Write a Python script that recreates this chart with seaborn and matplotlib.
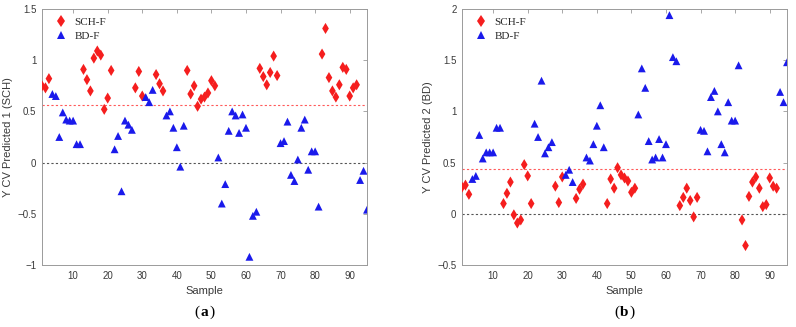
import matplotlib
matplotlib.use("Agg")
import matplotlib.pyplot as plt
from matplotlib.offsetbox import TextArea, HPacker, AnnotationBbox
import seaborn as sns
import numpy as np
import pandas as pd

# class of each sample (1..95)
group_runs = [("SCH-F", 3), ("BD-F", 9), ("SCH-F", 9), ("BD-F", 6), ("SCH-F", 3),
              ("BD-F", 3), ("SCH-F", 3), ("BD-F", 6), ("SCH-F", 9), ("BD-F", 12),
              ("SCH-F", 6), ("BD-F", 12), ("SCH-F", 11), ("BD-F", 3)]
groups = [g for g, n in group_runs for _ in range(n)]
samples = list(range(1, 96))

# Y CV Predicted 1 (SCH)
pred1 = [0.75, 0.73, 0.82, 0.67, 0.65, 0.25, 0.49, 0.42, 0.41, 0.41,
         0.18, 0.18, 0.91, 0.81, 0.70, 1.02, 1.09, 1.05, 0.52, 0.63,
         0.90, 0.13, 0.26, -0.28, 0.41, 0.37, 0.32, 0.73, 0.89, 0.65,
         0.64, 0.59, 0.71, 0.86, 0.77, 0.70, 0.46, 0.50, 0.34, 0.15,
         -0.04, 0.36, 0.90, 0.67, 0.75, 0.55, 0.62, 0.64, 0.68, 0.80,
         0.75, 0.05, -0.40, -0.21, 0.31, 0.50, 0.46, 0.29, 0.47, 0.34,
         -0.92, -0.52, -0.48, 0.92, 0.84, 0.76, 0.88, 1.04, 0.85, 0.19,
         0.21, 0.40, -0.12, -0.18, 0.03, 0.34, 0.42, -0.07, 0.11, 0.11,
         -0.43, 1.06, 1.31, 0.83, 0.70, 0.64, 0.76, 0.93, 0.91, 0.65,
         0.73, 0.76, -0.17, -0.08, -0.46]

# Y CV Predicted 2 (BD)
pred2 = [0.26, 0.28, 0.19, 0.34, 0.37, 0.77, 0.54, 0.60, 0.60, 0.60,
         0.84, 0.84, 0.10, 0.20, 0.31, -0.01, -0.09, -0.06, 0.48, 0.37,
         0.10, 0.88, 0.75, 1.30, 0.59, 0.65, 0.70, 0.27, 0.11, 0.36,
         0.38, 0.43, 0.31, 0.15, 0.24, 0.29, 0.55, 0.52, 0.68, 0.86,
         1.06, 0.65, 0.10, 0.34, 0.25, 0.45, 0.38, 0.35, 0.32, 0.21,
         0.25, 0.97, 1.42, 1.23, 0.71, 0.53, 0.55, 0.73, 0.55, 0.68,
         1.94, 1.53, 1.49, 0.08, 0.16, 0.25, 0.13, -0.03, 0.16, 0.82,
         0.81, 0.61, 1.14, 1.20, 1.00, 0.68, 0.60, 1.09, 0.91, 0.91,
         1.45, -0.06, -0.31, 0.17, 0.31, 0.36, 0.25, 0.07, 0.09, 0.35,
         0.27, 0.25, 1.19, 1.09, 1.48]

thresholds = [0.56, 0.44]
ylims = [(-1, 1.5), (-0.5, 2)]
ylabels = ["Y CV Predicted 1 (SCH)", "Y CV Predicted 2 (BD)"]
panel_tags = ["a", "b"]

df = pd.DataFrame({"Sample": samples, "pred1": pred1, "pred2": pred2, "group": groups})

sns.set_style("white")
plt.rcParams["font.family"] = ["Liberation Sans", "DejaVu Sans"]

palette = {"SCH-F": "#f51e1e", "BD-F": "#1a1aeb"}
markers = {"SCH-F": "d", "BD-F": "^"}
axis_grey = "#9a9a9a"
text_grey = "#3a3a3a"

fig = plt.figure(figsize=(7.96, 3.27), dpi=100)
ax1 = fig.add_axes([42 / 796, 1 - 265 / 327, 325 / 796, 256 / 327])
ax2 = fig.add_axes([462 / 796, 1 - 265 / 327, 325 / 796, 256 / 327])

for ax, col, thr, ylim, ylab, tag in zip([ax1, ax2], ["pred1", "pred2"], thresholds,
                                        ylims, ylabels, panel_tags):
    sns.scatterplot(data=df, x="Sample", y=col, hue="group", style="group",
                    palette=palette, markers=markers, s=32, linewidth=0,
                    ax=ax, zorder=3)
    ax.axhline(thr, color="#ff5a5a", lw=0.8, ls=(0, (2, 2)), zorder=2)
    ax.axhline(0, color="#555555", lw=0.8, ls=(0, (2, 2)), zorder=2)
    ax.set_xlim(1, 95)
    ax.set_ylim(*ylim)
    ax.set_xticks(range(10, 91, 10))
    yt = np.arange(ylim[0], ylim[1] + 0.01, 0.5)
    ax.set_yticks(yt)
    ax.set_yticklabels([f"{v:g}".replace("-", "\u2212") for v in yt])
    ax.tick_params(direction="in", top=True, right=True, length=3, width=0.6,
                   color=axis_grey, labelcolor=text_grey, labelsize=7, pad=4)
    for sp in ax.spines.values():
        sp.set_color(axis_grey)
        sp.set_linewidth(0.7)
    ax.set_xlabel("Sample", fontsize=8, color=text_grey, labelpad=4)
    ax.set_ylabel(ylab, fontsize=8, color=text_grey, labelpad=3)
    sns.move_legend(ax, "upper left", frameon=False, title=None,
                    prop={"family": "Liberation Serif", "size": 8},
                    handletextpad=0.2, borderaxespad=0.3, labelspacing=0.45,
                    markerscale=1.1)

    # panel tag "(a)" with only the letter in bold
    serif = {"family": "Liberation Serif", "size": 11, "color": "black"}
    parts = [TextArea("(", textprops=serif),
             TextArea(tag, textprops=dict(serif, weight="bold")),
             TextArea(")", textprops=serif)]
    box = HPacker(children=parts, align="baseline", pad=0, sep=0.5)
    ab = AnnotationBbox(box, (0.5, -0.185), xycoords="axes fraction",
                        frameon=False, box_alignment=(0.5, 0.5), annotation_clip=False)
    ax.add_artist(ab)

fig.savefig("out.png", dpi=100)
